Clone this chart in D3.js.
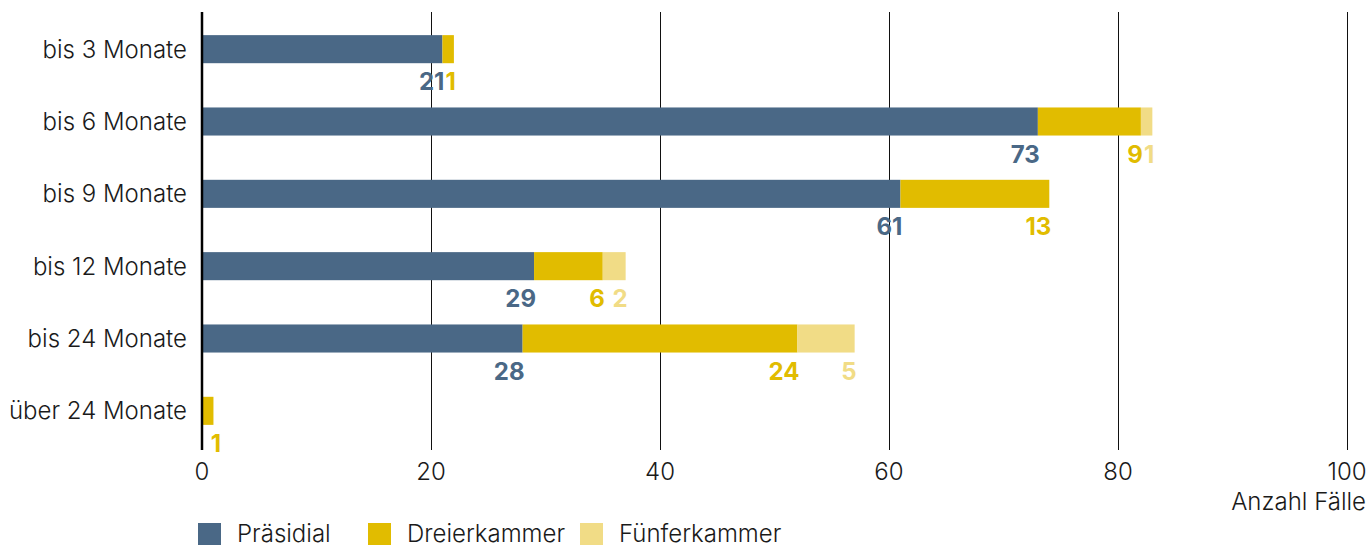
<!DOCTYPE html>
<html>
<head>
<meta charset="utf-8">
<script src="https://cdn.jsdelivr.net/npm/d3@7"></script>
<style>
  html, body { margin: 0; padding: 0; background: #fff; }
  svg { display: block; }
  text { font-family: Inter, "Noto Sans", sans-serif; }
</style>
</head>
<body>
<svg id="chart" width="1371" height="545"></svg>
<script>
// Verfahrensdauer nach Spruchkörper
const categories = ["bis 3 Monate", "bis 6 Monate", "bis 9 Monate", "bis 12 Monate", "bis 24 Monate", "über 24 Monate"];
const praesidial = [21, 73, 61, 29, 28, 0];
const dreierkammer = [1, 9, 13, 6, 24, 1];
const fuenferkammer = [0, 1, 0, 2, 5, 0];
const seriesNames = ["Präsidial", "Dreierkammer", "Fünferkammer"];
const seriesColors = ["#4a6886", "#e1bc00", "#f1dc86"];
const xTicks = [0, 20, 40, 60, 80, 100];
const xAxisTitle = "Anzahl Fälle";

const svg = d3.select("#chart");
const x = d3.scaleLinear().domain([0, 100]).range([202, 1347]);
const y = d3.scaleBand().domain(categories).range([13, 447]).paddingInner(0.612).paddingOuter(0.306);
const color = d3.scaleOrdinal().domain(seriesNames).range(seriesColors);
const crisp = v => Math.round(v) + 0.5;

const rows = categories.map((c, i) => ({
  cat: c,
  "Präsidial": praesidial[i],
  "Dreierkammer": dreierkammer[i],
  "Fünferkammer": fuenferkammer[i]
}));
const stacked = d3.stack().keys(seriesNames)(rows);

// gridlines
svg.append("g").selectAll("line")
  .data(xTicks.filter(t => t > 0))
  .join("line")
  .attr("x1", d => crisp(x(d))).attr("x2", d => crisp(x(d)))
  .attr("y1", 12).attr("y2", 450)
  .attr("stroke", "#111").attr("stroke-width", 1);

// bars
const layers = svg.append("g").selectAll("g")
  .data(stacked).join("g")
  .attr("fill", d => color(d.key));
layers.selectAll("rect")
  .data(d => d.filter(s => s[1] - s[0] > 0))
  .join("rect")
  .attr("x", d => x(d[0]))
  .attr("width", d => x(d[1]) - x(d[0]))
  .attr("y", d => y(d.data.cat))
  .attr("height", y.bandwidth());

// value labels under segment ends
svg.append("g").selectAll("g")
  .data(stacked).join("g")
  .attr("fill", d => color(d.key))
  .selectAll("text")
  .data(d => d.filter(s => s[1] - s[0] > 0).map(s => ({ s, key: d.key })))
  .join("text")
  .attr("x", d => Math.max(x(d.s[1]) + 2, x(0) + 19))
  .attr("y", d => y(d.s.data.cat) + y.bandwidth() + 27)
  .attr("text-anchor", "end")
  .attr("font-size", 24)
  .attr("font-weight", 700)
  .text(d => d.s[1] - d.s[0]);

// zero axis
svg.append("line")
  .attr("x1", x(0)).attr("x2", x(0))
  .attr("y1", 12).attr("y2", 450)
  .attr("stroke", "#000").attr("stroke-width", 2.5);

// category labels
svg.append("g").selectAll("text")
  .data(categories).join("text")
  .attr("x", 187)
  .attr("y", d => y(d) + y.bandwidth() / 2)
  .attr("dy", "0.35em")
  .attr("text-anchor", "end")
  .attr("font-size", 24)
  .attr("font-weight", 300)
  .attr("fill", "#1a1a1a")
  .text(d => d);

// x tick labels
svg.append("g").selectAll("text")
  .data(xTicks).join("text")
  .attr("x", d => x(d))
  .attr("y", 480)
  .attr("text-anchor", "middle")
  .attr("font-size", 24)
  .attr("font-weight", 300)
  .attr("fill", "#1a1a1a")
  .text(d => d);

svg.append("text")
  .attr("x", 1366).attr("y", 510)
  .attr("text-anchor", "end")
  .attr("font-size", 24)
  .attr("font-weight", 300)
  .attr("fill", "#1a1a1a")
  .text(xAxisTitle);

// legend
const legendX = [198, 368, 580];
const legend = svg.append("g").selectAll("g")
  .data(seriesNames).join("g")
  .attr("transform", (d, i) => `translate(${legendX[i]},523)`);
legend.append("rect")
  .attr("width", 23).attr("height", 23)
  .attr("fill", d => color(d));
legend.append("text")
  .attr("x", 39).attr("y", 19)
  .attr("font-size", 24)
  .attr("font-weight", 300)
  .attr("fill", "#1a1a1a")
  .text(d => d);
</script>
</body>
</html>
